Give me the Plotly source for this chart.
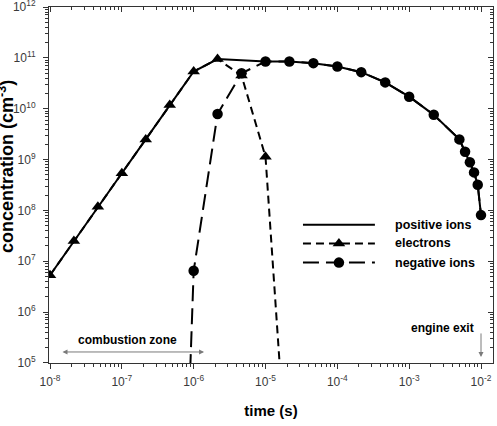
import plotly.graph_objects as go

# ---------------- data ----------------
# electrons (triangles, short dash)
t_electrons = [1e-8, 2.15e-8, 4.64e-8, 1e-7, 2.15e-7, 4.64e-7, 1e-6, 2.15e-6, 4.64e-6, 1e-5, 2.15e-5]
n_electrons = [5.3e6, 2.5e7, 1.18e8, 5.4e8, 2.5e9, 1.19e10, 5.4e10, 9.5e10, 4.5e10, 1.14e9, 1.5e2]

# negative ions (circles, long dash)
t_negative = [8.5e-7, 1e-6, 2.15e-6, 4.64e-6, 1e-5, 2.15e-5, 4.64e-5, 1e-4, 2.15e-4, 4.64e-4,
              1e-3, 2.2e-3, 5e-3, 6e-3, 7e-3, 8e-3, 9e-3, 1e-2]
n_negative = [9e3, 6.5e6, 7.9e9, 5.0e10, 8.5e10, 8.5e10, 7.9e10, 6.8e10, 5.25e10, 3.3e10,
              1.73e10, 7.6e9, 2.5e9, 1.43e9, 8.9e8, 5.6e8, 3.2e8, 8.1e7]

# positive ions (solid line)
t_positive = [1e-8, 2.15e-8, 4.64e-8, 1e-7, 2.15e-7, 4.64e-7, 1e-6, 2.15e-6, 4.64e-6, 1e-5,
              2.15e-5, 4.64e-5, 1e-4, 2.15e-4, 4.64e-4, 1e-3, 2.2e-3, 5e-3, 6e-3, 7e-3, 8e-3, 9e-3, 1e-2]
n_positive = [5.3e6, 2.5e7, 1.18e8, 5.4e8, 2.5e9, 1.19e10, 5.4e10, 9.5e10, 9.0e10, 8.5e10,
              8.5e10, 7.9e10, 6.8e10, 5.25e10, 3.3e10, 1.73e10, 7.6e9, 2.5e9, 1.43e9, 8.9e8, 5.6e8, 3.2e8, 8.1e7]

x_exponents = [-8, -7, -6, -5, -4, -3, -2]
y_exponents = [5, 6, 7, 8, 9, 10, 11, 12]
x_ticktext = [f"10<sup>{e}</sup>" for e in x_exponents]
y_ticktext = [f"10<sup>{e}</sup>" for e in y_exponents]

legend_names = ["positive ions", "electrons", "negative ions"]

# ---------------- styling ----------------
FONT = "Arial, Liberation Sans, sans-serif"
AX = "#333333"
TICKC = "#3a3a3a"
XR = [-8.014, -1.833]
YR = [4.999, 12.002]

x_major = [10.0 ** e for e in x_exponents]
y_major = [10.0 ** e for e in y_exponents]
x_minor = [m * 10.0 ** e for e in x_exponents[:-1] for m in range(2, 10)] + [m * 1e-2 for m in range(2, 7)]
y_minor = [m * 10.0 ** e for e in y_exponents[:-1] for m in range(2, 10)]

DASH_E = "8px,5px"
DASH_N = "16px,7px"

fig = go.Figure()

fig.add_trace(go.Scatter(x=t_positive, y=n_positive, mode="lines",
                         line=dict(color="black", width=2), showlegend=False))
fig.add_trace(go.Scatter(x=t_electrons, y=n_electrons, mode="lines+markers",
                         line=dict(color="black", width=2, dash=DASH_E),
                         marker=dict(symbol="triangle-up", size=11, color="black"),
                         showlegend=False))
fig.add_trace(go.Scatter(x=t_negative, y=n_negative, mode="lines+markers",
                         line=dict(color="black", width=2, dash=DASH_N),
                         marker=dict(symbol="circle", size=10.5, color="black"),
                         showlegend=False))

# mirrored axes with inside ticks (top / right)
fig.add_trace(go.Scatter(x=[None], y=[None], xaxis="x2", yaxis="y2", showlegend=False, hoverinfo="skip"))

# manual legend on hidden overlay axes (fraction coordinates)
leg_rows = [0.388, 0.336, 0.282]
leg_styles = [
    dict(line=dict(color="black", width=2), mode="lines"),
    dict(line=dict(color="black", width=2, dash=DASH_E), mode="lines"),
    dict(line=dict(color="black", width=2, dash=DASH_N), mode="lines"),
]
leg_markers = [None, "triangle-up", "circle"]
for row, sty, mk, name in zip(leg_rows, leg_styles, leg_markers, legend_names):
    fig.add_trace(go.Scatter(x=[0.572, 0.734], y=[row, row], xaxis="x3", yaxis="y3",
                             showlegend=False, hoverinfo="skip", **sty))
    if mk:
        fig.add_trace(go.Scatter(x=[0.653], y=[row], xaxis="x3", yaxis="y3", mode="markers",
                                 marker=dict(symbol=mk, size=11 if mk == "triangle-up" else 10.5, color="black"),
                                 showlegend=False, hoverinfo="skip"))
    fig.add_annotation(x=0.775, y=row, xref="x3", yref="y3", text=name, showarrow=False,
                       xanchor="left", yanchor="middle",
                       font=dict(family=FONT, size=12.5, color="black", weight="bold"))

common_axis = dict(type="log", showgrid=False, zeroline=False, linecolor=AX, linewidth=1, automargin=False)

fig.update_layout(
    width=497, height=426,
    margin=dict(l=49, r=4, t=7, b=63, autoexpand=False),
    paper_bgcolor="white", plot_bgcolor="white",
    font=dict(family=FONT, color=TICKC, size=12),
    showlegend=False,
    xaxis=dict(**common_axis, range=XR, showline=True, mirror=True,
               tickmode="array", tickvals=x_major, ticktext=x_ticktext,
               ticks="outside", ticklen=5, tickcolor=AX, ticklabelstandoff=3,
               ticklabeloverflow="allow",
               minor=dict(tickmode="array", tickvals=x_minor, ticks="outside", ticklen=3, tickcolor=AX),
               tickfont=dict(size=12, color=TICKC),
               title=dict(text="time (s)", font=dict(size=15, color="black", weight="bold"), standoff=17)),
    yaxis=dict(**common_axis, range=YR, showline=True, mirror=True,
               tickmode="array", tickvals=y_major, ticktext=y_ticktext,
               ticks="outside", ticklen=5, tickcolor=AX, ticklabelstandoff=5,
               ticklabeloverflow="allow",
               minor=dict(tickmode="array", tickvals=y_minor, ticks="outside", ticklen=3, tickcolor=AX),
               tickfont=dict(size=12, color=TICKC)),
    xaxis2=dict(type="log", range=XR, overlaying="x", side="top", anchor="y2", automargin=False,
                showgrid=False, zeroline=False, showline=False, showticklabels=False,
                tickmode="array", tickvals=x_major, ticks="inside", ticklen=5, tickcolor=AX,
                minor=dict(tickmode="array", tickvals=x_minor, ticks="inside", ticklen=3, tickcolor=AX)),
    yaxis2=dict(type="log", range=YR, overlaying="y", side="right", anchor="x2", automargin=False,
                showgrid=False, zeroline=False, showline=False, showticklabels=False,
                tickmode="array", tickvals=y_major, ticks="inside", ticklen=5, tickcolor=AX,
                minor=dict(tickmode="array", tickvals=y_minor, ticks="inside", ticklen=3, tickcolor=AX)),
    xaxis3=dict(range=[0, 1], overlaying="x", visible=False, anchor="y3"),
    yaxis3=dict(range=[0, 1], overlaying="y", visible=False, anchor="x3"),
)

# y-axis title (partly clipped at the left edge, as in the reference)
fig.add_annotation(x=-0.097, y=0.553, xref="paper", yref="paper", text="concentration (cm<sup>-3</sup>)",
                   textangle=-90, showarrow=False, xanchor="center", yanchor="middle",
                   font=dict(family=FONT, size=18, color="black", weight="bold"))

# combustion zone double arrow + label
fig.add_annotation(x=-5.855, y=5.216, ax=-7.847, ay=5.216, xref="x", yref="y", axref="x", ayref="y",
                   text="", showarrow=True, arrowside="end+start", arrowhead=2, arrowsize=1,
                   arrowwidth=1, arrowcolor="#7a7a7a")
fig.add_annotation(x=-6.921, y=5.447, xref="x", yref="y", text="combustion zone", showarrow=False,
                   font=dict(family=FONT, size=12, color="black", weight="bold"))

# engine exit arrow + label
fig.add_annotation(x=-2, y=5.118, ax=-2, ay=5.61, xref="x", yref="y", axref="x", ayref="y",
                   text="", showarrow=True, arrowhead=2, arrowsize=1, arrowwidth=1, arrowcolor="#7a7a7a")
fig.add_annotation(x=-2.543, y=5.683, xref="x", yref="y", text="engine exit", showarrow=False,
                   font=dict(family=FONT, size=12, color="black", weight="bold"))

fig.write_html("out.html")
